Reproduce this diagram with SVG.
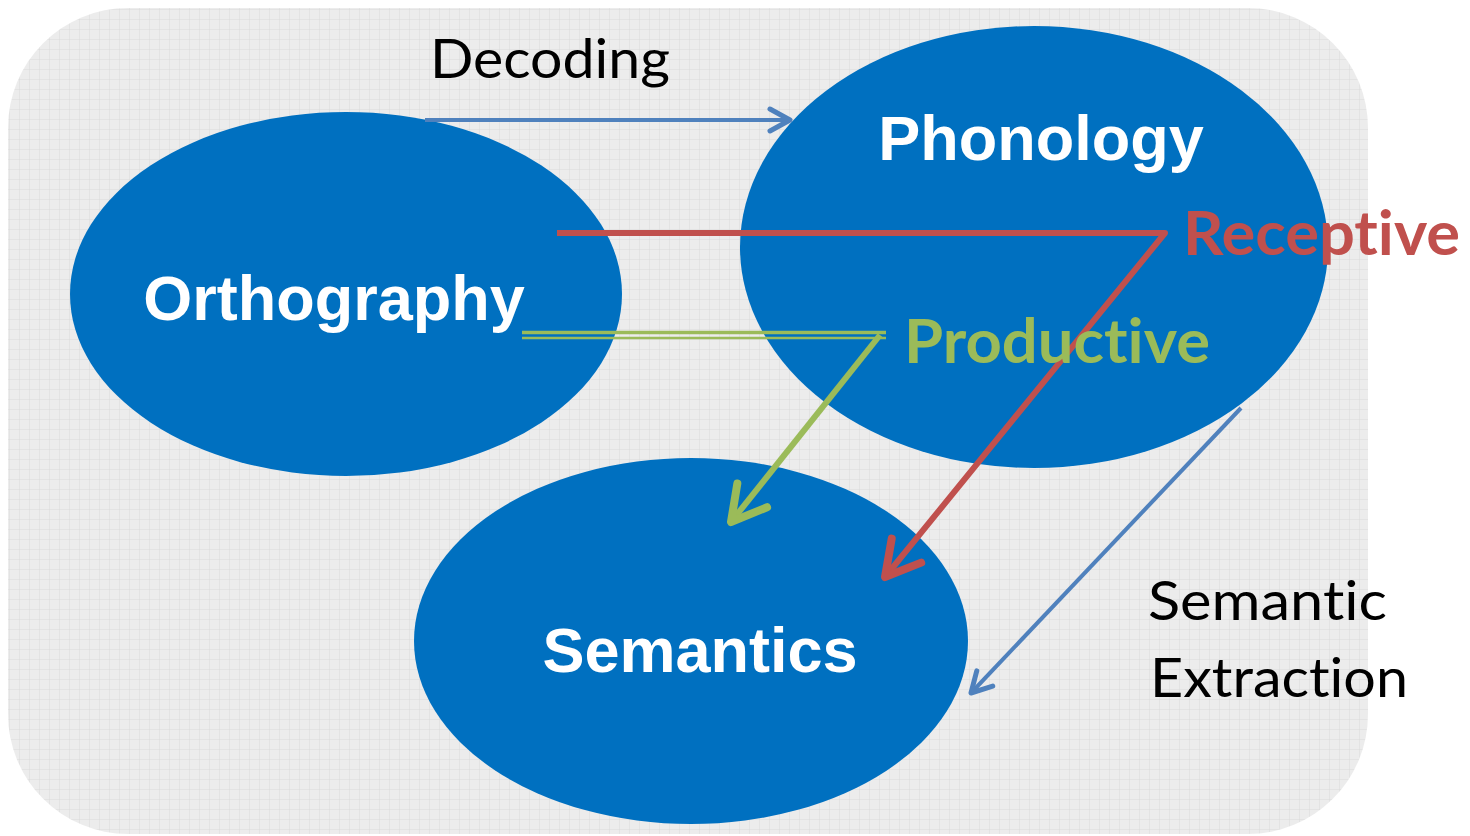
<svg xmlns="http://www.w3.org/2000/svg" width="1470" height="836" viewBox="0 0 1470 836">
<style>
.node{fill:#0070c0}
.ntxt{font-family:"Liberation Sans",Arial,sans-serif;font-weight:bold;font-size:63px;fill:#fff;text-anchor:middle}
.lbl{font-family:Lato,"Open Sans",sans-serif;font-size:54px;fill:#000;font-variant-ligatures:none;font-feature-settings:"liga" 0,"clig" 0}
.big{font-family:Lato,"Open Sans",sans-serif;font-weight:bold;font-size:62px;font-variant-ligatures:none;font-feature-settings:"liga" 0,"clig" 0}
.blue{stroke:#4f81bd;stroke-width:4;fill:none}
.red{stroke:#c0504d;stroke-width:6;fill:none;stroke-linejoin:round}
.green{stroke:#9bbb59;fill:none}
</style>
<defs>
<pattern id="grid" width="10" height="10" patternUnits="userSpaceOnUse">
<rect width="10" height="10" fill="#ececec"/>
<path d="M10,0 V10 M0,10 H10" stroke="#dadada" stroke-width="1" fill="none"/>
</pattern>
<marker id="ahBlue" markerUnits="userSpaceOnUse" markerWidth="40" markerHeight="40" refX="0" refY="0" orient="auto" overflow="visible">
<path d="M-20,-11 L0,0 L-20,11" fill="none" stroke="#4f81bd" stroke-width="5" stroke-linecap="round" stroke-linejoin="round"/>
</marker>
<marker id="ahRed" markerUnits="userSpaceOnUse" markerWidth="60" markerHeight="60" refX="0" refY="0" orient="auto" overflow="visible">
<path d="M-34,-19 L0,0 L-34,19" fill="none" stroke="#c0504d" stroke-width="8" stroke-linecap="round" stroke-linejoin="round"/>
</marker>
<marker id="ahGreen" markerUnits="userSpaceOnUse" markerWidth="60" markerHeight="60" refX="0" refY="0" orient="auto" overflow="visible">
<path d="M-34,-19 L0,0 L-34,19" fill="none" stroke="#9bbb59" stroke-width="8" stroke-linecap="round" stroke-linejoin="round"/>
</marker>
</defs>
<rect x="8" y="8" width="1360" height="826" rx="120" ry="120" fill="url(#grid)"/>
<g id="orthography">
<ellipse class="node" cx="346" cy="294" rx="276" ry="182"/>
<text class="ntxt" x="334" y="320">Orthography</text>
</g>
<g id="phonology">
<ellipse class="node" cx="1034" cy="247" rx="294" ry="221"/>
<text class="ntxt" x="1041" y="160">Phonology</text>
</g>
<g id="semantics">
<ellipse class="node" cx="691" cy="641" rx="277" ry="183"/>
<text class="ntxt" x="700" y="672">Semantics</text>
</g>
<g id="connectors">
<line class="blue" x1="425" y1="120" x2="790" y2="120" marker-end="url(#ahBlue)"/>
<polyline class="red" points="557,233 1165,233 885,577" marker-end="url(#ahRed)"/>
<line class="green" x1="522" y1="332.5" x2="886" y2="332.5" stroke-width="3.5"/>
<line class="green" x1="522" y1="338" x2="886" y2="338" stroke-width="2.5"/>
<line class="green" x1="880" y1="335" x2="731" y2="522" stroke-width="6" marker-end="url(#ahGreen)"/>
<line class="blue" x1="1241" y1="408" x2="971" y2="693" marker-end="url(#ahBlue)"/>
</g>
<g id="labels">
<text class="lbl" x="430" y="78" textLength="240" lengthAdjust="spacingAndGlyphs">Decoding</text>
<text class="big" x="1183" y="255" fill="#c0504d" textLength="277" lengthAdjust="spacingAndGlyphs">Receptive</text>
<text class="big" x="904" y="363" fill="#9bbb59" textLength="306" lengthAdjust="spacingAndGlyphs">Productive</text>
<text class="lbl" x="1148" y="620" textLength="239" lengthAdjust="spacingAndGlyphs">Semantic</text>
<text class="lbl" x="1150" y="697" textLength="258" lengthAdjust="spacingAndGlyphs">Extraction</text>
</g>
</svg>
